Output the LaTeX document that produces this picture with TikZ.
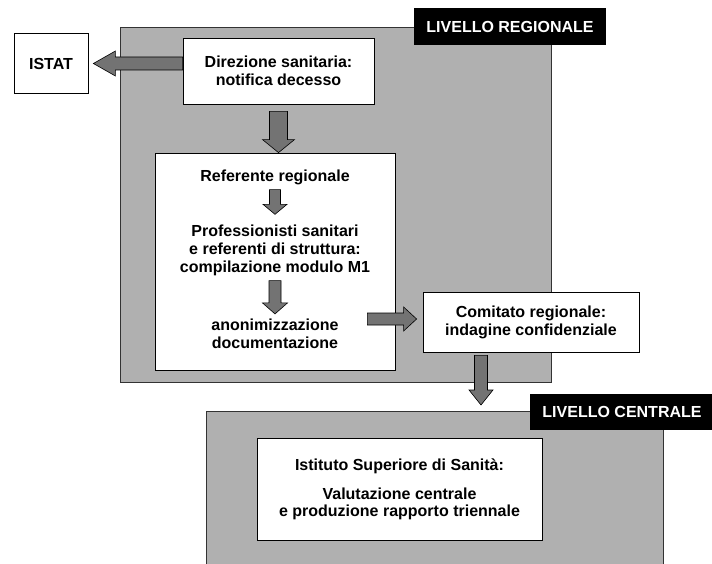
\documentclass[tikz,border=0pt]{standalone}
\usepackage{fontspec}
\setmainfont{Liberation Sans}
\usetikzlibrary{calc}
\definecolor{regiongray}{gray}{0.69}
\definecolor{arrowgray}{gray}{0.45}
\begin{document}
\begin{tikzpicture}[x=1pt,y=-1pt,
  font=\fontsize{16}{18}\selectfont\bfseries,
  region/.style={draw=black!80, line width=0.8pt, fill=regiongray, anchor=north west, inner sep=0pt},
  lab/.style={fill=black, text=white, inner sep=0pt, font=\fontsize{16}{18}\selectfont\bfseries},
  box/.style={draw=black, line width=0.8pt, fill=white, align=center, inner sep=0pt},
  txt/.style={align=center, inner sep=0pt},
  blk/.style={draw=black, line width=0.6pt, fill=arrowgray}]
\useasboundingbox (0,0) rectangle (712,564);
\fill[white] (0,0) rectangle (712,564);

% regions
\node[region, minimum width=431pt, minimum height=355pt] (reg) at (120,27) {};
\node[region, minimum width=457pt, minimum height=160pt] (cen) at (206,411) {};

% level labels
\node[lab, minimum width=192pt, minimum height=37pt] (reglab) at (510,26.5) {LIVELLO REGIONALE};
\node[lab, minimum width=184pt, minimum height=36pt] (cenlab) at (622,412) {LIVELLO CENTRALE};

% boxes
\node[box, minimum width=74pt, minimum height=60pt] (istat) at (51,63.5) {ISTAT};
\node[box, minimum width=191pt, minimum height=66pt] (dir) at (278.5,71) {Direzione sanitaria:\\notifica decesso};
\node[box, minimum width=240pt, minimum height=217pt] (inner) at (275,261.5) {};
\node[txt] (ref) at (275,177) {Referente regionale};
\node[txt] (prof) at (275,250) {Professionisti sanitari\\e referenti di struttura:\\compilazione modulo M1};
\node[txt] (anon) at (275,334) {anonimizzazione\\documentazione};
\node[box, minimum width=216pt, minimum height=60pt] (com) at (531,322) {Comitato regionale:\\indagine confidenziale};
\node[box, minimum width=285pt, minimum height=102pt, font=\fontsize{16}{17}\selectfont\bfseries] (iss) at (399.5,489)
  {Istituto Superiore di Sanità:\\[12pt]Valutazione centrale\\e produzione rapporto triennale};

% block arrows
% dir -> istat (leftward)
\draw[blk] let \p1=(dir.west), \p2=(istat.east) in
  (\x1,\y2+6.5pt) -- (\x2+27pt,\y2+6.5pt) -- (\x2+27pt,\y2+12.5pt) -- (\x2+5pt,\y2)
  -- (\x2+27pt,\y2-12.5pt) -- (\x2+27pt,\y2-6.5pt) -- (\x1,\y2-6.5pt) -- cycle;
% dir -> inner
\draw[blk] let \p1=(dir.south), \p2=(inner.north) in
  (\x1-9pt,\y1-7pt) -- (\x1+9pt,\y1-7pt) -- (\x1+9pt,\y2+13pt) -- (\x1+16pt,\y2+13pt)
  -- (\x1,\y2) -- (\x1-16pt,\y2+13pt) -- (\x1-9pt,\y2+13pt) -- cycle;
% ref -> prof
\draw[blk] let \p1=(ref.south), \p2=(prof.north) in
  (\x1-5.5pt,\y1-5pt) -- (\x1+5.5pt,\y1-5pt) -- (\x1+5.5pt,\y2+20pt) -- (\x1+12pt,\y2+20pt)
  -- (\x1,\y2+10pt) -- (\x1-12pt,\y2+20pt) -- (\x1-5.5pt,\y2+20pt) -- cycle;
% prof -> anon
\draw[blk] let \p1=(prof.south), \p2=(anon.north) in
  (\x1-6pt,\y1-5pt) -- (\x1+6pt,\y1-5pt) -- (\x1+6pt,\y2+16pt) -- (\x1+12.5pt,\y2+16pt)
  -- (\x1,\y2+5pt) -- (\x1-12.5pt,\y2+16pt) -- (\x1-6pt,\y2+16pt) -- cycle;
% inner -> com
\draw[blk] let \p1=(inner.east), \p2=(com.west) in
  (\x1-28pt,\y2+9pt) -- (\x2-19pt,\y2+9pt) -- (\x2-19pt,\y2+15pt) -- (\x2-6pt,\y2+3pt)
  -- (\x2-19pt,\y2-9pt) -- (\x2-19pt,\y2-3pt) -- (\x1-28pt,\y2-3pt) -- cycle;
% com -> central
\draw[blk] let \p1=(com.south), \p2=(cen.north) in
  (\x1-56.5pt,\y1-3pt) -- (\x1-43.5pt,\y1-3pt) -- (\x1-43.5pt,\y2+21pt) -- (\x1-38pt,\y2+21pt)
  -- (\x1-50pt,\y2+6pt) -- (\x1-62pt,\y2+21pt) -- (\x1-56.5pt,\y2+21pt) -- cycle;
\end{tikzpicture}
\end{document}
